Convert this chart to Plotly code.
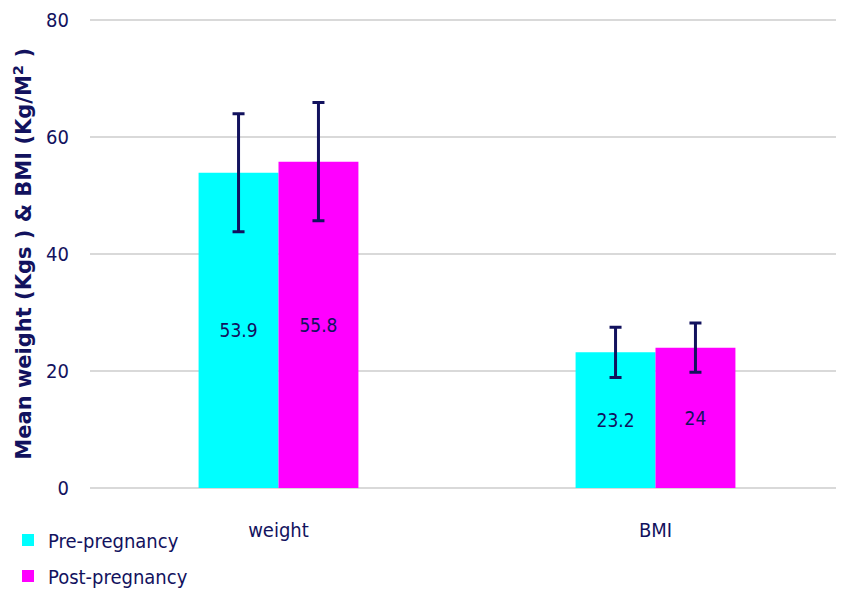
import plotly.graph_objects as go

categories = ["weight", "BMI"]
pre_values = [53.9, 23.2]
post_values = [55.8, 24.0]
pre_sd = [10.1, 4.3]
post_sd = [10.1, 4.2]
pre_labels = ["53.9", "23.2"]
post_labels = ["55.8", "24"]

navy = "#12125e"
font_family = "DejaVu Sans Condensed, Liberation Sans, sans-serif"

fig = go.Figure()
fig.add_trace(go.Bar(
    name="Pre-pregnancy", x=categories, y=pre_values, legendgroup="pre",
    marker=dict(color="#00ffff", line=dict(width=0)),
    text=pre_labels, textposition="inside", insidetextanchor="middle",
    textfont=dict(size=19, color=navy, family=font_family),
    error_y=dict(type="data", array=pre_sd, color=navy, thickness=3, width=6),
))
fig.add_trace(go.Bar(
    name="Post-pregnancy", x=categories, y=post_values, legendgroup="post",
    marker=dict(color="#ff00ff", line=dict(width=0)),
    text=post_labels, textposition="inside", insidetextanchor="middle",
    textfont=dict(size=19, color=navy, family=font_family),
    error_y=dict(type="data", array=post_sd, color=navy, thickness=3, width=6),
))

fig.add_annotation(
    text="<b>Mean weight (Kgs ) & BMI (Kg/M<sup>2</sup> )</b>",
    xref="paper", yref="paper", x=-0.09, y=0.5,
    xanchor="center", yanchor="middle", textangle=-90, showarrow=False,
    font=dict(size=21, color=navy, family="DejaVu Sans, sans-serif"),
)

fig.update_layout(
    width=836, height=589,
    margin=dict(l=82, r=0, t=11, b=109, autoexpand=False),
    paper_bgcolor="white", plot_bgcolor="white",
    barmode="group", bargap=0.576, bargroupgap=0,
    font=dict(family=font_family, color=navy, size=18),
    showlegend=True,
    legend=dict(
        xref="container", yref="container", x=0.0, y=0.13,
        xanchor="left", yanchor="top", orientation="v",
        font=dict(size=20, color=navy, family=font_family),
        itemwidth=30, tracegroupgap=7, traceorder="grouped",
    ),
    xaxis=dict(
        showgrid=False, showline=False, ticks="",
        ticklabelstandoff=28,
        tickfont=dict(size=20, color=navy, family=font_family),
    ),
    yaxis=dict(
        range=[0, 80.2], tickvals=[0, 20, 40, 60, 80],
        showgrid=True, gridcolor="#d9d9d9", gridwidth=1.5,
        zeroline=True, zerolinecolor="#d9d9d9", zerolinewidth=1.5,
        showline=False, ticks="", ticklabelstandoff=20,
        ticklabeloverflow="allow",
        tickfont=dict(size=20, color=navy, family=font_family),
    ),
)

fig.write_html("out.html")
